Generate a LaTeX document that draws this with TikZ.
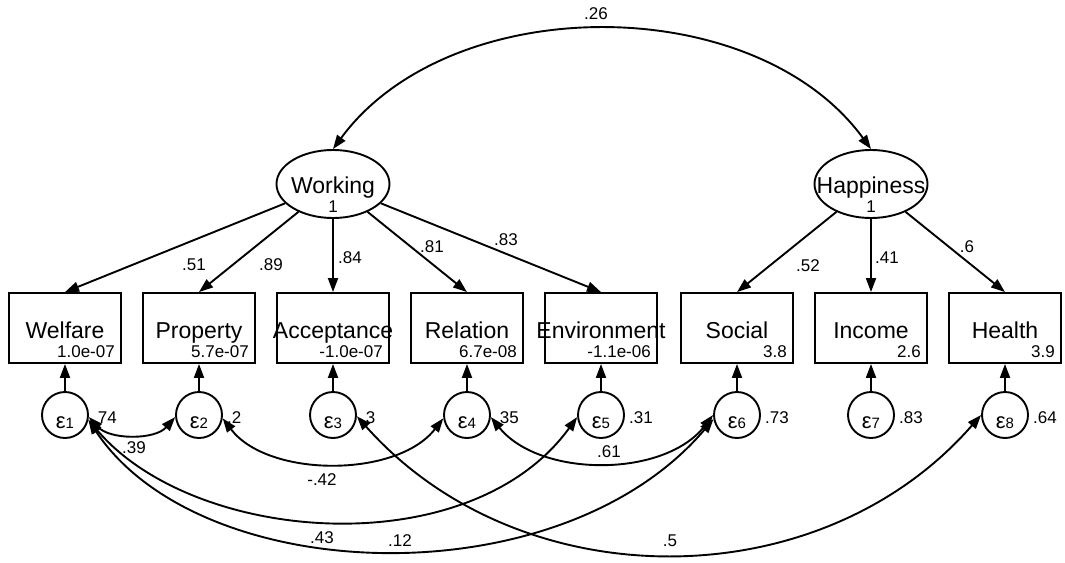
\documentclass[tikz,border=0pt]{standalone}
\usepackage{fontspec}
\setmainfont{Liberation Sans}
\usetikzlibrary{arrows.meta,shapes.geometric}
\begin{document}
\begin{tikzpicture}[x=1pt,y=-1pt,
  lw/.style={line width=1.9pt},
  tip/.style={-{Triangle[length=14pt,width=10pt]}},
  dtip/.style={{Triangle[length=14pt,width=10pt]}-{Triangle[length=14pt,width=10pt]}},
  obs/.style={draw,lw,rectangle,minimum width=112pt,minimum height=70pt,inner sep=0pt},
  lat/.style={draw,lw,ellipse,minimum width=113pt,minimum height=68pt,inner sep=0pt},
  err/.style={draw,lw,circle,minimum size=46pt,inner sep=0pt},
  big/.style={inner sep=0pt,anchor=base,font=\fontsize{23}{27}\selectfont},
  num/.style={inner sep=0pt,anchor=base,font=\fontsize{17}{20}\selectfont},
  numr/.style={num,anchor=base east},
  numl/.style={num,anchor=base west},
  eps/.style={inner sep=0pt,anchor=base}]
\useasboundingbox (0,0) rectangle (1065,562);

% latent variables
\node[lat] (W) at (333,184) {};
\node[big] (Wt) at (333,193) {Working};
\node[num] (Wv) at (333,212) {1};
\node[lat] (H) at (871,184) {};
\node[big] (Ht) at (871,193) {Happiness};
\node[num] (Hv) at (871,212) {1};

% observed variables and errors
\foreach \i/\x/\n/\v/\ev in {1/65/Welfare/1.0e-07/.74, 2/199/Property/5.7e-07/.2, 3/333/Acceptance/-1.0e-07/.3, 4/467/Relation/6.7e-08/.35, 5/601/Environment/-1.1e-06/.31, 6/737/Social/3.8/.73, 7/871/Income/2.6/.83, 8/1005/Health/3.9/.64}{
  \node[obs] (b\i) at (\x,328) {};
  \node[big] (n\i) at (\x,338) {\n};
  \node[numr] (v\i) at (\x+50,357) {\v};
  \node[err] (e\i) at (\x,415) {};
  \node[eps] (t\i) at (\x,428) {\fontsize{22}{24}\selectfont ε\fontsize{15}{18}\selectfont\i};
  \node[numl] (ev\i) at (\x+28,423) {\ev};
  \draw[lw,tip] (e\i) -- (b\i);
}

% loadings
\draw[lw,tip] (W) -- (b1.north);
\draw[lw,tip] (W) -- (b2.north);
\draw[lw,tip] (W) -- (b3.north);
\draw[lw,tip] (W) -- (b4.north);
\draw[lw,tip] (W) -- (b5.north);
\draw[lw,tip] (H) -- (b6.north);
\draw[lw,tip] (H) -- (b7.north);
\draw[lw,tip] (H) -- (b8.north);
\node[num] (l1) at (194,270) {.51};
\node[num] (l2) at (271,270) {.89};
\node[num] (l3) at (350,263) {.84};
\node[num] (l4) at (432,252) {.81};
\node[num] (l5) at (506,245) {.83};
\node[num] (l6) at (808,271) {.52};
\node[num] (l7) at (887,263) {.41};
\node[num] (l8) at (967,252) {.6};

% latent covariance
\draw[lw,dtip] (W.north) .. controls (450,-10) and (755,-10) .. (H.north);
\node[num] (c0) at (596,19) {.26};

% error covariances
\node[num] (c12) at (134,453) {.39};
\node[num] (c24) at (322,485) {-.42};
\node[num] (c46) at (609,457) {.61};
\node[num] (c15) at (322,543) {.43};
\node[num] (c16) at (400,546) {.12};
\node[num] (c38) at (670,546) {.5};
\draw[lw,dtip] (e1.-5) .. controls (110,440) and (155,440) .. (e2.185);
\draw[lw,dtip] (e2.-8) .. controls (268,478) and (397,478) .. (e4.188);
\draw[lw,dtip] (e4.-5) .. controls (540,478) and (665,478) .. (e6.180);
\draw[lw,dtip] (e1.-12) .. controls (195,545) and (470,565) .. (e5.185);
\draw[lw,dtip] (e1.-12) .. controls (200,588) and (560,600) .. (e6.190);
\draw[lw,dtip] (e3.-3) .. controls (520,600) and (820,600) .. (e8.180);
\end{tikzpicture}
\end{document}
